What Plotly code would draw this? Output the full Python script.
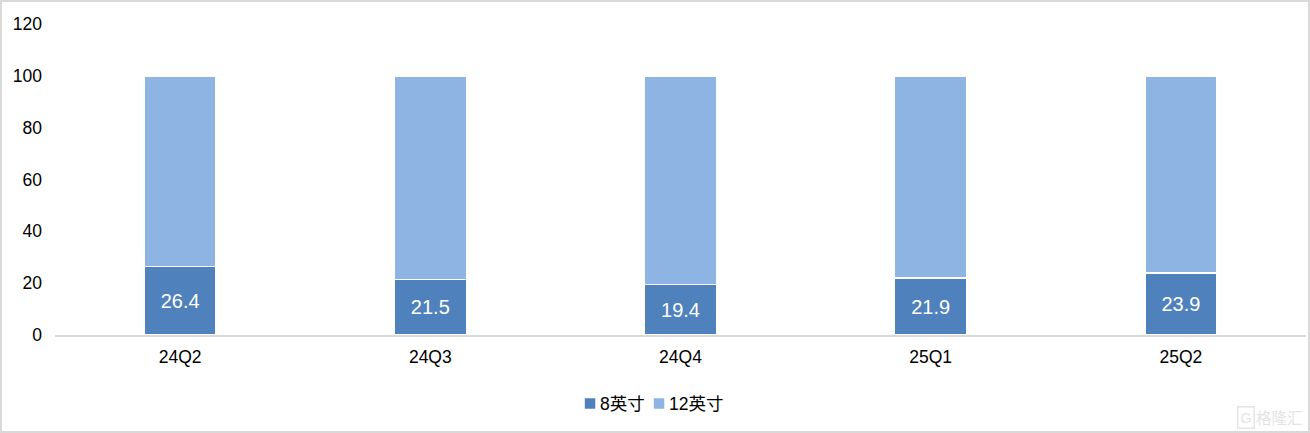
import plotly.graph_objects as go

categories = ["24Q2", "24Q3", "24Q4", "25Q1", "25Q2"]
inch8 = [26.4, 21.5, 19.4, 21.9, 23.9]
inch12 = [73.6, 78.5, 80.6, 78.1, 76.1]
y_ticks = [0, 20, 40, 60, 80, 100, 120]

FONT = "Liberation Sans, Noto Sans CJK SC, sans-serif"
W, H = 1310, 433
L, R, T, B = 55, 4, 24, 98

fig = go.Figure()
fig.add_bar(
    name="8英寸", x=categories, y=inch8, marker=dict(color="#4F81BD", line=dict(color="white", width=1.5)),
    text=[f"{v:.1f}" for v in inch8], textposition="inside", insidetextanchor="middle",
    textangle=0, constraintext="none",
    textfont=dict(color="white", size=20, family=FONT), hoverinfo="x+y",
)
fig.add_bar(
    name="12英寸", x=categories, y=inch12, marker=dict(color="#8EB4E3", line=dict(color="white", width=1.5)),
    hoverinfo="x+y",
)

fig.update_layout(
    width=W, height=H, barmode="stack", bargap=0.712,
    margin=dict(l=L, r=R, t=T, b=B, pad=0),
    paper_bgcolor="white", plot_bgcolor="white",
    font=dict(family=FONT, size=17.5, color="black"),
    showlegend=True,
    legend=dict(orientation="h", x=0.4117, xref="paper", xanchor="left", yref="container", y=0.068, yanchor="middle",
                font=dict(size=17.5), traceorder="normal", itemwidth=30,
                entrywidth=24, entrywidthmode="pixels"),
    xaxis=dict(type="category", showgrid=False, showline=True, linecolor="#D9D9D9", linewidth=2,
               ticks="", ticklabelstandoff=5, tickfont=dict(size=17.5)),
    yaxis=dict(range=[0, 120], tickvals=y_ticks, showgrid=False, zeroline=False, showline=False,
               ticks="", ticklabelstandoff=12, tickfont=dict(size=17.5)),
    shapes=[dict(type="rect", xref="paper", yref="paper", layer="below",
                 x0=-(L - 1) / (W - L - R), x1=1 + (R - 1) / (W - L - R),
                 y0=-(B - 1) / (H - T - B), y1=1 + (T - 1) / (H - T - B),
                 line=dict(color="#D9D9D9", width=2), fillcolor="rgba(0,0,0,0)")],
    annotations=[
        dict(text="格隆汇", xref="paper", yref="paper", x=1.0, y=-(B - 16) / (H - T - B),
             xanchor="right", yanchor="middle", showarrow=False, xshift=-1,
             font=dict(size=15.5, color="#E4E4E4", family="Noto Sans CJK SC")),
        dict(text="G", xref="paper", yref="paper", x=1.0, y=-(B - 16) / (H - T - B),
             xanchor="right", yanchor="middle", showarrow=False, xshift=-51,
             bordercolor="#E4E4E4", borderwidth=1.5, borderpad=2,
             font=dict(size=14, color="#E4E4E4", family="Liberation Sans")),
    ],
)

fig.write_html(
    "out.html",
    config=dict(displayModeBar=False),
    post_script=(
        "document.body.style.margin='0';"
        "document.querySelectorAll('.legendtext').forEach(t=>t.setAttribute('x','30'));"
        "document.querySelectorAll('.legend .scrollbox').forEach(s=>s.removeAttribute('clip-path'));"
    ),
)
